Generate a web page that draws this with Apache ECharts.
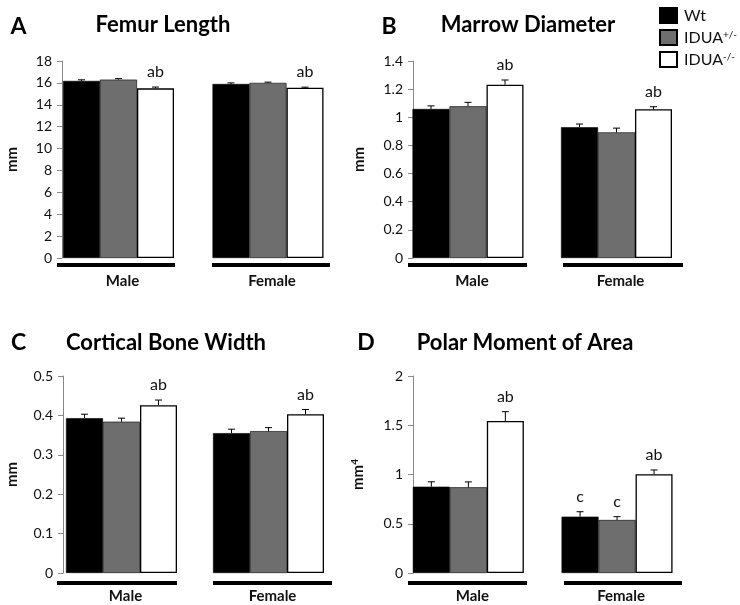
<!DOCTYPE html>
<html>
<head>
<meta charset="utf-8">
<script src="https://cdn.jsdelivr.net/npm/echarts@6/dist/echarts.min.js"></script>
<style>html,body{margin:0;padding:0;background:#fff}#c{width:740px;height:605px}</style>
</head>
<body>
<div id="c"></div>
<script>
// ---------- data ----------
const categories = ['Male', 'Female'];
const groups = ['Wt', 'IDUA+/-', 'IDUA-/-'];

// A: Femur Length (mm)
const femurWt = [16.18, 15.90];
const femurHet = [16.30, 16.00];
const femurKo = [15.50, 15.55];
const femurWtErr = [0.10, 0.10];
const femurHetErr = [0.09, 0.07];
const femurKoErr = [0.12, 0.06];
const femurWtSig = ['', ''];
const femurHetSig = ['', ''];
const femurKoSig = ['ab', 'ab'];
const femurTicks = [0, 18, 2];

// B: Marrow Diameter (mm)
const marrowWt = [1.059, 0.929];
const marrowHet = [1.078, 0.893];
const marrowKo = [1.232, 1.057];
const marrowWtErr = [0.022, 0.023];
const marrowHetErr = [0.028, 0.030];
const marrowKoErr = [0.033, 0.018];
const marrowWtSig = ['', ''];
const marrowHetSig = ['', ''];
const marrowKoSig = ['ab', 'ab'];
const marrowTicks = [0, 1.4, 0.2];

// C: Cortical Bone Width (mm)
const cortWt = [0.393, 0.355];
const cortHet = [0.384, 0.360];
const cortKo = [0.426, 0.403];
const cortWtErr = [0.010, 0.010];
const cortHetErr = [0.009, 0.009];
const cortKoErr = [0.013, 0.012];
const cortWtSig = ['', ''];
const cortHetSig = ['', ''];
const cortKoSig = ['ab', 'ab'];
const cortTicks = [0, 0.5, 0.1];

// D: Polar Moment of Area (mm^4)
const polarWt = [0.876, 0.572];
const polarHet = [0.870, 0.538];
const polarKo = [1.543, 1.002];
const polarWtErr = [0.050, 0.050];
const polarHetErr = [0.055, 0.034];
const polarKoErr = [0.095, 0.044];
const polarWtSig = ['', 'c'];
const polarHetSig = ['', 'c'];
const polarKoSig = ['ab', 'ab'];
const polarTicks = [0, 2, 0.5];

// ---------- layout / style ----------
const FONT = 'Lato, "Open Sans", sans-serif';
const colors = ['#000000', '#6e6e6e', '#ffffff'];
const BARW = 37;

const panels = [
  { letter: 'A', title: 'Femur Length', unit: 'mm', ticks: femurTicks,
    values: [femurWt, femurHet, femurKo], errs: [femurWtErr, femurHetErr, femurKoErr], sigs: [femurWtSig, femurHetSig, femurKoSig],
    grid: { left: 43.75, top: 61, width: 299, height: 197 }, offset: -18.25, nameGap: 42,
    letterPos: [18.5, 27], titlePos: [163, 25], lines: [[57, 175], [212, 330]], lineY: 265 },
  { letter: 'B', title: 'Marrow Diameter', unit: 'mm', ticks: marrowTicks,
    values: [marrowWt, marrowHet, marrowKo], errs: [marrowWtErr, marrowHetErr, marrowKoErr], sigs: [marrowWtSig, marrowHetSig, marrowKoSig],
    grid: { left: 393.75, top: 61, width: 297, height: 197 }, offset: -19.25, nameGap: 46,
    letterPos: [389, 27], titlePos: [528, 25], lines: [[408, 527], [563, 683]], lineY: 265 },
  { letter: 'C', title: 'Cortical Bone Width', unit: 'mm', ticks: cortTicks,
    values: [cortWt, cortHet, cortKo], errs: [cortWtErr, cortHetErr, cortKoErr], sigs: [cortWtSig, cortHetSig, cortKoSig],
    grid: { left: 48, top: 376, width: 294, height: 197 }, offset: -15, nameGap: 43,
    letterPos: [18.5, 343], titlePos: [166, 343], lines: [[57, 177], [213, 332]], lineY: 583 },
  { letter: 'D', title: 'Polar Moment of Area', unit: 'mm4', ticks: polarTicks,
    values: [polarWt, polarHet, polarKo], errs: [polarWtErr, polarHetErr, polarKoErr], sigs: [polarWtSig, polarHetSig, polarKoSig],
    grid: { left: 394, top: 376, width: 297.4, height: 197 }, offset: -19, nameGap: 46,
    letterPos: [366, 343], titlePos: [525, 343], lines: [[408, 527], [564, 682]], lineY: 583 }
];

const grids = [], xAxes = [], yAxes = [], series = [], graphics = [];

panels.forEach((p, pi) => {
  grids.push(Object.assign({ containLabel: false }, p.grid));
  xAxes.push({
    type: 'category', gridIndex: pi, data: categories,
    axisLine: { show: false }, axisTick: { show: false },
    axisLabel: { fontFamily: FONT, fontWeight: 'bold', fontSize: 15, color: '#111', margin: 16, padding: [0, 0, 0, 8] }
  });
  const unitName = p.unit === 'mm4' ? '{u|mm}{s|4}' : '{u|mm}';
  yAxes.push({
    type: 'value', gridIndex: pi, min: p.ticks[0], max: p.ticks[1], interval: p.ticks[2],
    offset: p.offset,
    axisLine: { show: true, lineStyle: { color: '#8a8a8a', width: 1 } },
    axisTick: { show: true, length: 5, lineStyle: { color: '#8a8a8a' } },
    axisLabel: { fontFamily: FONT, fontSize: 14, color: '#111', margin: 10 },
    splitLine: { show: false },
    name: unitName, nameLocation: 'middle', nameGap: p.nameGap,
    nameTextStyle: {
      fontFamily: FONT, fontWeight: 'bold', fontSize: 15, color: '#111',
      rich: {
        u: { fontFamily: FONT, fontWeight: 'bold', fontSize: 15, color: '#111' },
        s: { fontFamily: FONT, fontWeight: 'bold', fontSize: 10, color: '#111', verticalAlign: 'top', padding: [0, 0, 7, 0] }
      }
    }
  });
  groups.forEach((g, gi) => {
    series.push({
      type: 'bar', name: g, xAxisIndex: pi, yAxisIndex: pi, data: p.values[gi],
      barWidth: BARW, barGap: '0%', silent: true,
      itemStyle: { color: colors[gi], borderColor: '#000', borderWidth: gi === 2 ? 1.3 : 0.6 }
    });
  });
  groups.forEach((g, gi) => {
    const sig = p.sigs[gi];
    series.push({
      type: 'custom', xAxisIndex: pi, yAxisIndex: pi, z: 5, silent: true,
      data: categories.map((c, i) => [i, p.values[gi][i], p.errs[gi][i]]),
      renderItem: (params, api) => {
        const i = api.value(0), v = api.value(1), e = api.value(2);
        const b = api.coord([i, v]);
        const t = api.coord([i, v + e]);
        const x = b[0] + (gi - 1) * BARW;
        const children = [
          { type: 'line', shape: { x1: x, y1: b[1], x2: x, y2: t[1] }, style: { stroke: '#000', lineWidth: 1 } },
          { type: 'line', shape: { x1: x - 3.5, y1: t[1], x2: x + 3.5, y2: t[1] }, style: { stroke: '#000', lineWidth: 1 } }
        ];
        const s = sig[params.dataIndex];
        if (s) {
          children.push({ type: 'text', x: x, y: t[1] - 15,
            style: { text: s, fontFamily: FONT, fontSize: 16, fill: '#111', align: 'center', verticalAlign: 'middle' } });
        }
        return { type: 'group', children: children };
      }
    });
  });
  graphics.push({ type: 'text', x: p.letterPos[0], y: p.letterPos[1],
    style: { text: p.letter, fontFamily: FONT, fontWeight: 'bold', fontSize: 23, fill: '#000', align: 'center', verticalAlign: 'middle' } });
  graphics.push({ type: 'text', x: p.titlePos[0], y: p.titlePos[1],
    style: { text: p.title, fontFamily: FONT, fontWeight: 'bold', fontSize: 22, fill: '#000', align: 'center', verticalAlign: 'middle' } });
  p.lines.forEach(l => {
    graphics.push({ type: 'line', shape: { x1: l[0], y1: p.lineY, x2: l[1], y2: p.lineY }, style: { stroke: '#000', lineWidth: 4 } });
  });
});

const chart = echarts.init(document.getElementById('c'), null, { renderer: 'canvas' });
chart.setOption({
  animation: false,
  backgroundColor: '#fff',
  grid: grids, xAxis: xAxes, yAxis: yAxes, series: series,
  legend: {
    data: groups, orient: 'vertical', left: 654, top: 2, itemWidth: 17, itemHeight: 15, itemGap: 5,
    selectedMode: false, icon: 'rect',
    formatter: name => name === 'Wt' ? '{b|Wt}' : '{b|IDUA}{s|' + name.slice(4) + '}',
    textStyle: {
      padding: [0, 0, 0, 2],
      rich: {
        b: { fontFamily: FONT, fontSize: 16, color: '#111' },
        s: { fontFamily: FONT, fontSize: 10, color: '#111', verticalAlign: 'top', padding: [0, 0, 6, 0] }
      }
    }
  },
  graphic: graphics
});
</script>
</body>
</html>
